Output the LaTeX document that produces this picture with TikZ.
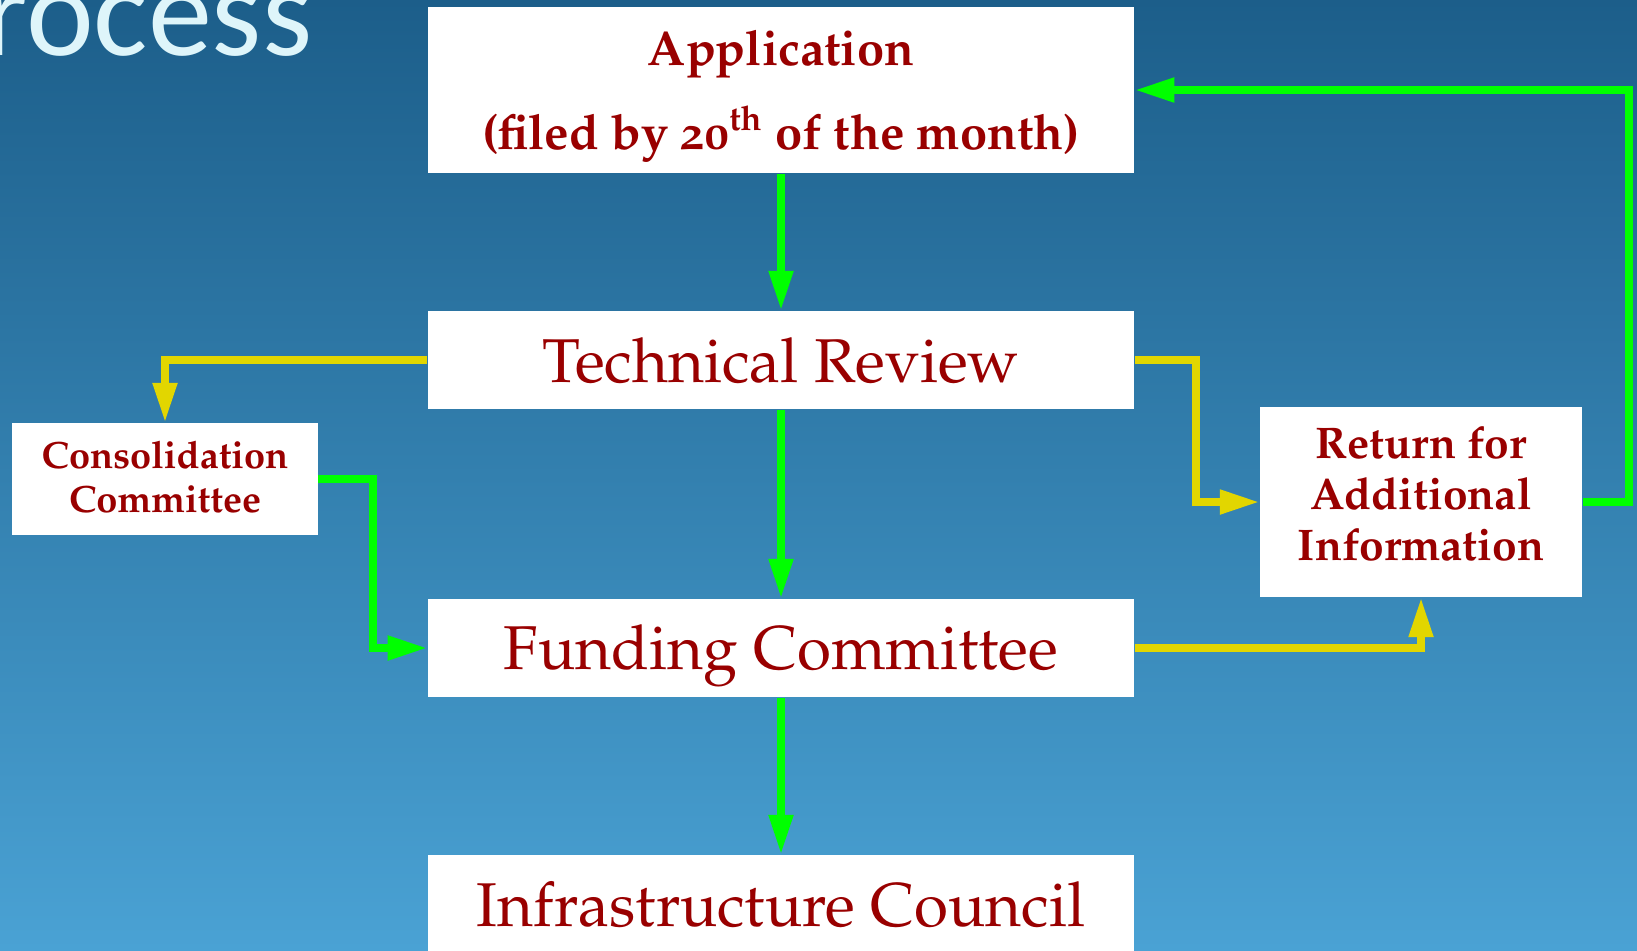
\documentclass[tikz,border=0pt]{standalone}
\usepackage[T1,TU]{fontenc}
\usepackage{fontspec}
\newfontfamily\titlefont{Carlito}
\usetikzlibrary{arrows.meta}
\newcommand\palfont{\fontencoding{T1}\fontfamily{ppl}\selectfont}
\newcommand\palosf[1]{{\fontencoding{T1}\fontfamily{pplj}\selectfont #1}}
\definecolor{bgtop}{RGB}{28,94,138}
\definecolor{bgbot}{RGB}{74,162,212}
\definecolor{boxred}{RGB}{153,0,0}
\definecolor{flowgreen}{RGB}{0,255,0}
\definecolor{flowyellow}{RGB}{226,214,0}
\definecolor{titlecol}{RGB}{222,245,250}
\begin{document}
\begin{tikzpicture}[x=0.01cm,y=-0.01cm,
  box/.style={fill=white, inner sep=0pt, draw=none},
  lbl/.style={text=boxred, inner sep=0pt, anchor=base},
  bigtxt/.style={font=\palfont\fontsize{17.6}{20}\selectfont},
  apptxt/.style={font=\palfont\bfseries\fontsize{13.9}{16}\selectfont},
  smalltxt/.style={font=\palfont\bfseries\fontsize{10.8}{13}\selectfont},
  midtxt/.style={font=\palfont\bfseries\fontsize{12.6}{15}\selectfont},
  flow/.style={line width=2.1pt, -{Triangle[length=11.2pt,width=6.6pt]}},
  go/.style={flow, draw=flowgreen},
  hold/.style={flow, draw=flowyellow}]
\useasboundingbox (0,0) rectangle (1637,950);
\clip (0,0) rectangle (1637,950);
\shade[top color=bgtop, bottom color=bgbot] (0,0) rectangle (1637,950);

\node[anchor=base east, text=titlecol, inner sep=0pt,
      font=\titlefont\fontsize{36.5}{40}\selectfont] (title) at (313,55) {rocess};

% boxes
\node[box, minimum width=7.06cm, minimum height=1.66cm] (app) at (781,90) {};
\node[box, minimum width=7.06cm, minimum height=0.98cm] (tr) at (781,360) {};
\node[box, minimum width=7.06cm, minimum height=0.98cm] (fc) at (781,648) {};
\node[box, minimum width=7.06cm, minimum height=0.98cm] (ic) at (781,904) {};
\node[box, minimum width=3.05cm, minimum height=1.12cm] (cc) at (165,479) {};
\node[box, minimum width=3.22cm, minimum height=1.90cm] (ra) at (1421,502) {};

% texts
\node[lbl, apptxt] (appA) at (781,65) {Application};
\node[lbl, apptxt] (appB) at (781,149) {(filed by \palosf{20}\textsuperscript{th} of the month)};
\node[lbl, bigtxt] (trT) at (781,382) {Technical Review};
\node[lbl, bigtxt] (fcT) at (781,669) {Funding Committee};
\node[lbl, bigtxt] (icT) at (781,926) {Infrastructure Council};
\node[lbl, smalltxt] (ccA) at (165,468) {Consolidation};
\node[lbl, smalltxt] (ccB) at (165,512) {Committee};
\node[lbl, midtxt] (raA) at (1421,458) {Return for};
\node[lbl, midtxt] (raB) at (1421,509) {Additional};
\node[lbl, midtxt] (raC) at (1421,560) {Information};

% connectors
\coordinate (ccturn) at (373,479);
\coordinate (trturn) at (1196,360);
\coordinate (raturn) at (1629,502);
\draw[go] (app.south) -- (tr.north);
\draw[go] (tr.south) -- (fc.north);
\draw[go] (fc.south) -- (ic.north);
\draw[hold] (tr.west) -| (cc.north);
\draw[go] (cc.east) -- (ccturn) |- (fc.west);
\draw[hold] (tr.east) -- (trturn) |- (ra.west);
\draw[hold] (fc.east) -| (ra.south);
\draw[go] (ra.east) -- (raturn) |- (app.east);
\end{tikzpicture}
\end{document}
